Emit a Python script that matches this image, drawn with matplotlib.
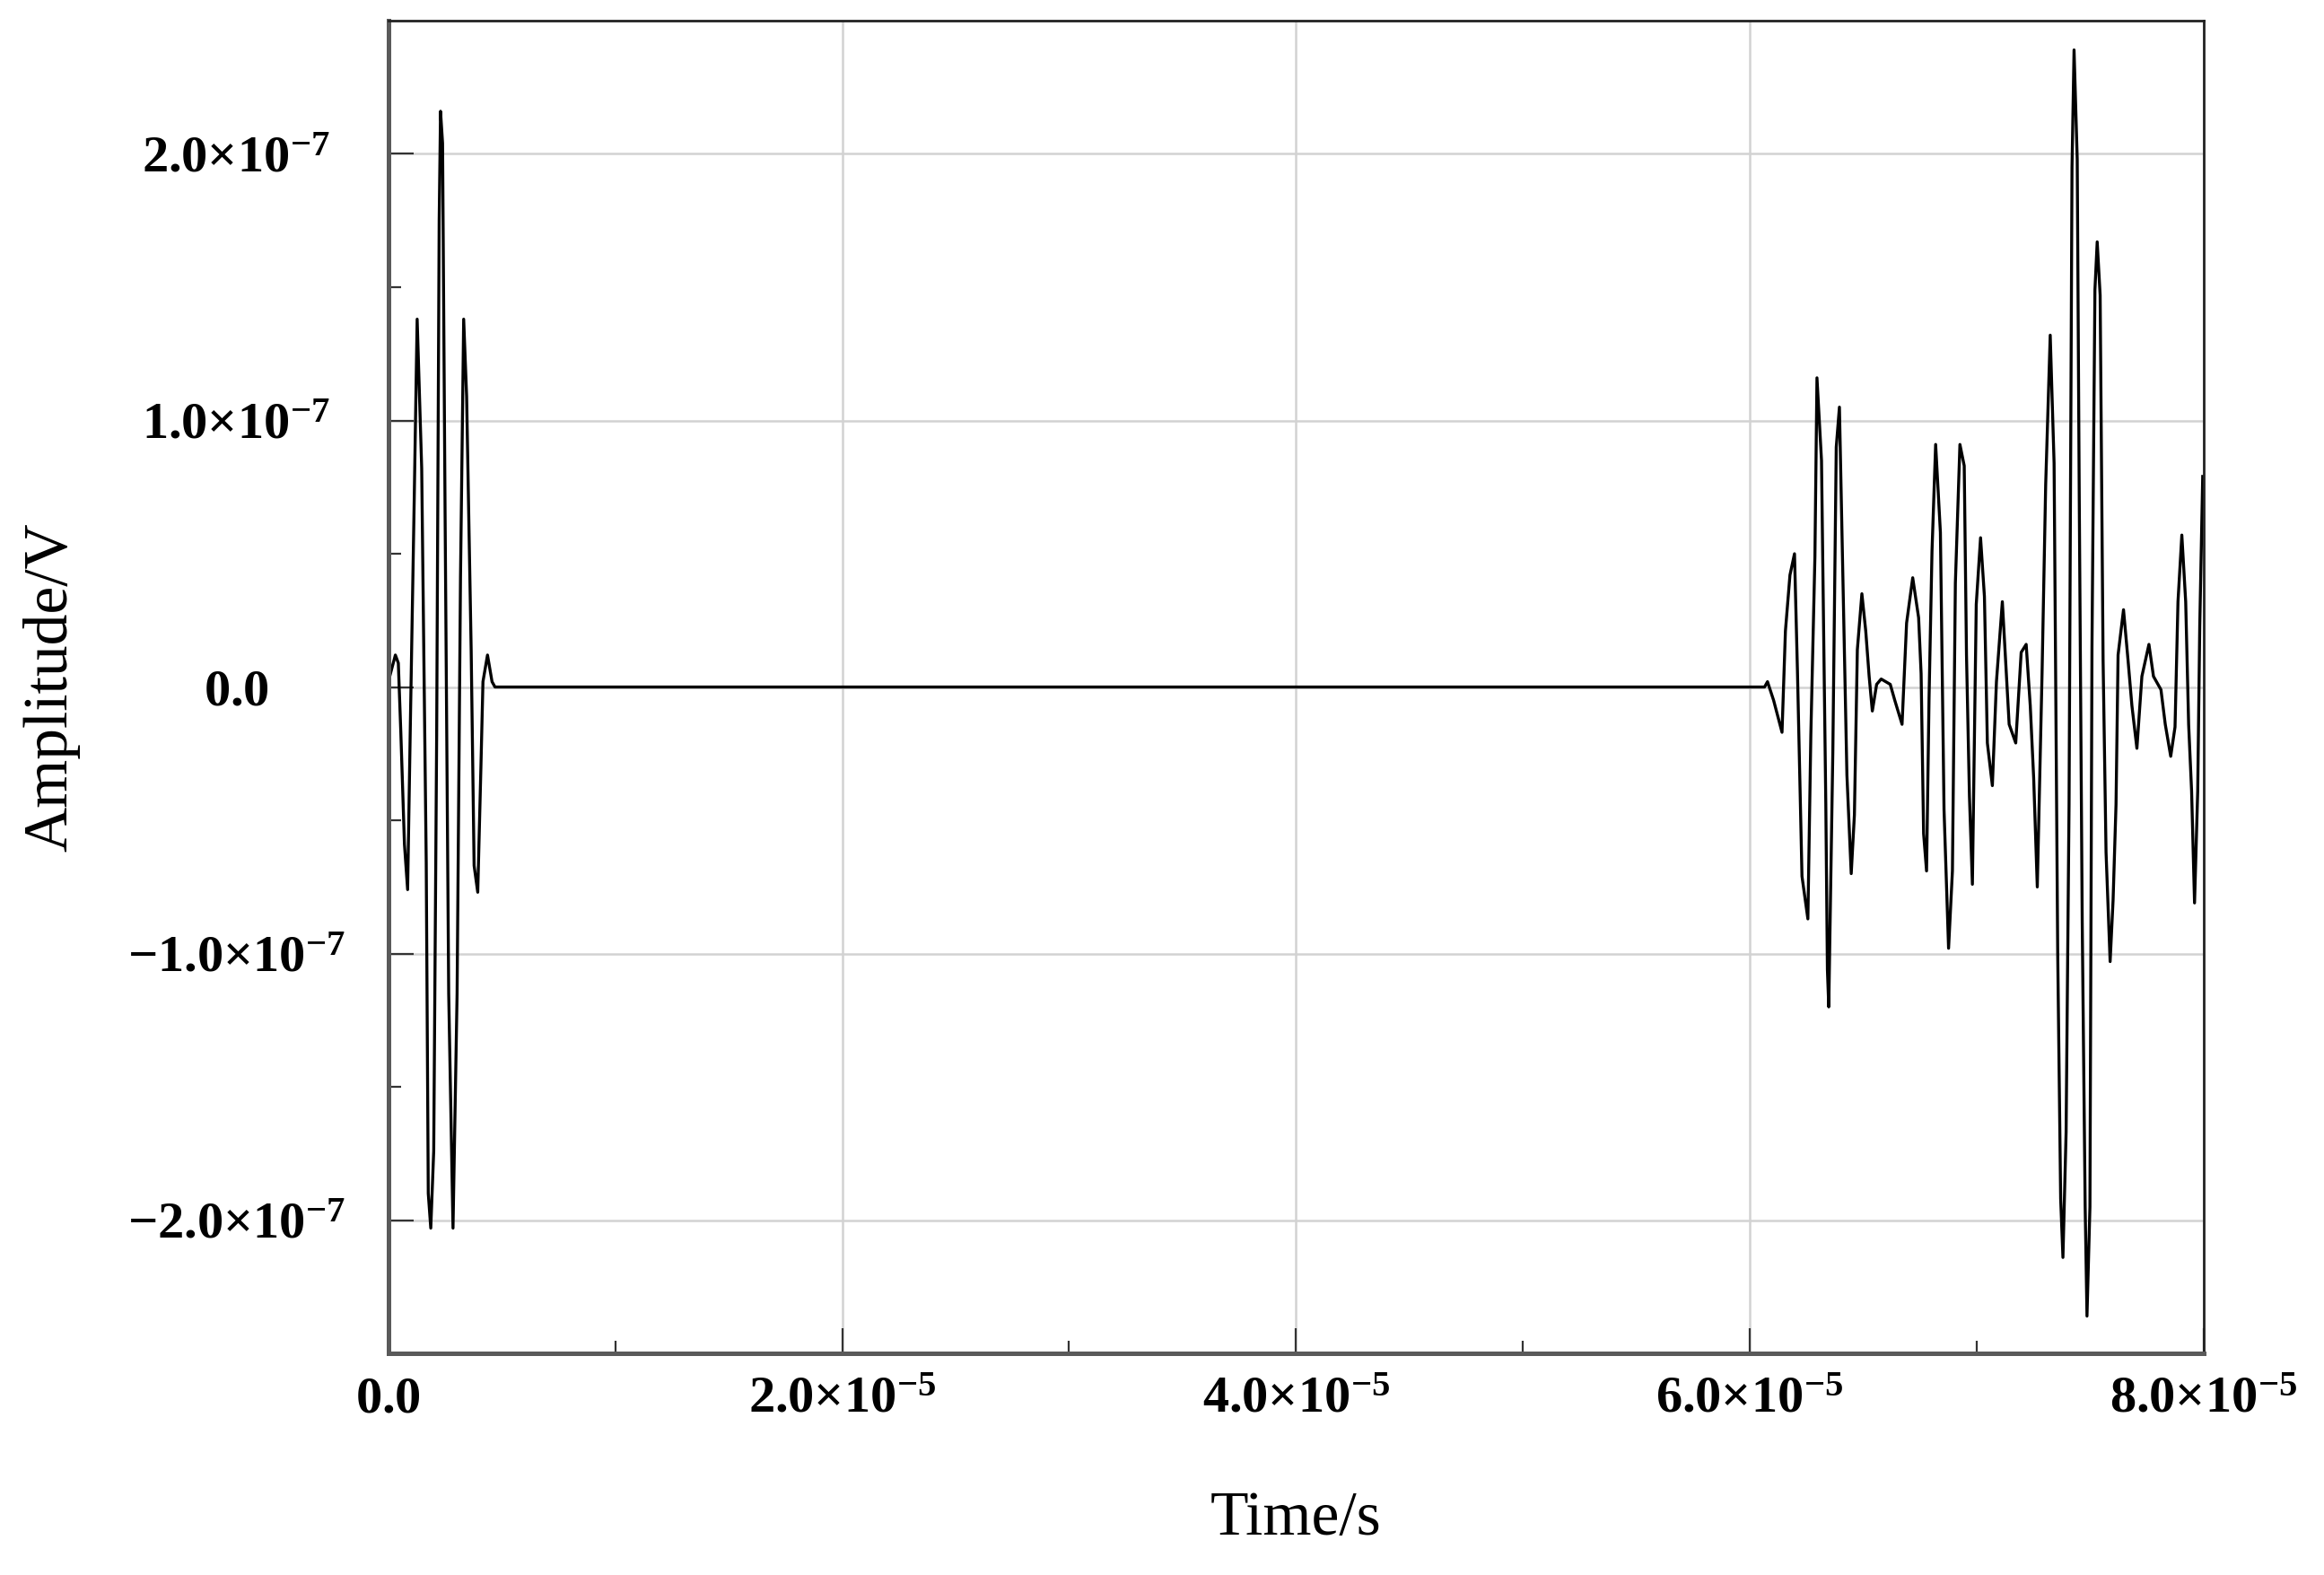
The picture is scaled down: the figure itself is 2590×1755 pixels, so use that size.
import numpy as np
import matplotlib
matplotlib.use('Agg')
import matplotlib.pyplot as plt

# 読み取った波形データ (時間: us, 振幅: 1e-7 V)
burst1_t_us = [0.00, 0.22, 0.31, 0.44, 0.55, 0.71, 0.85, 0.97, 1.14, 1.27,
               1.47, 1.67, 1.76, 1.87, 2.00, 2.13, 2.24, 2.30, 2.39, 2.50,
               2.66, 2.85, 3.03, 3.18, 3.32, 3.45, 3.65, 3.78, 3.94, 4.08,
               4.17, 4.37, 4.57, 4.70]
burst1_amp = [0.02, 0.09, 0.12, 0.09, -0.17, -0.59, -0.76, -0.14, 0.70, 1.38,
              0.82, -0.66, -1.90, -2.03, -1.74, -0.18, 1.75, 2.16, 2.04, 0.66,
              -1.15, -2.03, -1.15, 0.41, 1.38, 1.09, 0.14, -0.67, -0.77, -0.30,
              0.02, 0.12, 0.02, 0.00]

burst2_t_us = [60.65, 60.78, 61.05, 61.42, 61.57, 61.77, 61.97, 62.10, 62.30, 62.56,
               62.69, 62.87, 62.96, 63.16, 63.35, 63.42, 63.48, 63.66, 63.81, 63.95,
               64.14, 64.28, 64.47, 64.61, 64.74, 64.94, 65.11, 65.26, 65.40, 65.59,
               65.79, 66.19, 66.39, 66.71, 66.91, 67.18, 67.44, 67.55, 67.66, 67.79,
               67.90, 68.03, 68.19, 68.40, 68.56, 68.76, 68.93, 69.06, 69.26, 69.45,
               69.55, 69.68, 69.81,
               69.98, 70.17, 70.34, 70.47, 70.69, 70.87, 71.13, 71.43, 71.72, 71.96,
               72.18, 72.36, 72.51, 72.67, 72.88, 73.04, 73.24, 73.41, 73.57, 73.70,
               73.80, 73.94, 74.07, 74.20, 74.29, 74.43, 74.52, 74.65, 74.78, 74.86,
               74.99, 75.08, 75.21, 75.31, 75.44, 75.57, 75.70, 75.88, 76.01, 76.14,
               76.23, 76.47, 76.67, 76.84, 77.06, 77.28, 77.59, 77.79, 78.12, 78.31,
               78.55, 78.74, 78.87, 79.04, 79.21, 79.34, 79.47, 79.60, 79.74, 79.83,
               79.96]
burst2_amp = [0.00, 0.02, -0.05, -0.17, 0.21, 0.42, 0.50, 0.06, -0.71, -0.87,
              -0.18, 0.49, 1.16, 0.85, -0.44, -1.06, -1.20, -0.24, 0.90, 1.05,
              0.26, -0.33, -0.70, -0.48, 0.14, 0.35, 0.21, 0.04, -0.09, 0.01,
              0.03, 0.01, -0.05, -0.14, 0.24, 0.41, 0.26, 0.05, -0.55, -0.69,
              -0.04, 0.51, 0.91, 0.58, -0.46, -0.98, -0.69, 0.39, 0.91, 0.83,
              0.12, -0.41, -0.74,
              0.31, 0.56, 0.34, -0.21, -0.37, 0.02, 0.32, -0.14, -0.21, 0.13,
              0.16, -0.07, -0.34, -0.75, 0.05, 0.76, 1.32, 0.84, -1.00, -1.92,
              -2.14, -1.67, -0.44, 1.95, 2.39, 1.98, 0.70, -0.88, -1.95, -2.36,
              -1.95, 0.15, 1.49, 1.67, 1.47, 0.10, -0.62, -1.03, -0.80, -0.44,
              0.12, 0.29, 0.10, -0.07, -0.23, 0.04, 0.16, 0.04, -0.01, -0.14,
              -0.26, -0.15, 0.32, 0.57, 0.32, -0.14, -0.39, -0.81, -0.39, 0.23,
              0.79]

x_ticks = [0, 2e-5, 4e-5, 6e-5, 8e-5]
x_tick_labels = [r'$\mathbf{0.0}$', r'$\mathbf{2.0{\times}10^{-5}}$', r'$\mathbf{4.0{\times}10^{-5}}$',
                 r'$\mathbf{6.0{\times}10^{-5}}$', r'$\mathbf{8.0{\times}10^{-5}}$']
y_ticks = [-2e-7, -1e-7, 0, 1e-7, 2e-7]
y_tick_labels = [r'$\mathbf{{-}2.0{\times}10^{-7}}$', r'$\mathbf{{-}1.0{\times}10^{-7}}$', r'$\mathbf{0.0}$',
                 r'$\mathbf{1.0{\times}10^{-7}}$', r'$\mathbf{2.0{\times}10^{-7}}$']

plt.rcParams['font.family'] = ['Liberation Serif', 'DejaVu Serif']
plt.rcParams['mathtext.fontset'] = 'custom'
plt.rcParams['mathtext.rm'] = 'Liberation Serif'
plt.rcParams['mathtext.bf'] = 'Liberation Serif:bold'
plt.rcParams['mathtext.it'] = 'Liberation Serif:italic'

t = np.concatenate([burst1_t_us, burst2_t_us]) * 1e-6
amp = np.concatenate([burst1_amp, burst2_amp]) * 1e-7

fig = plt.figure(figsize=(12.95, 8.775), dpi=200)
ax = fig.add_axes([0.1671, 0.1407, 0.7811, 0.8462])

ax.plot(t, amp, color='black', lw=1.2)

ax.set_xlim(0, 8e-5)
ax.set_ylim(-2.5e-7, 2.5e-7)
ax.set_xticks(x_ticks, x_tick_labels)
ax.set_xticks([1e-5, 3e-5, 5e-5, 7e-5], minor=True)
ax.set_yticks(y_ticks, y_tick_labels)
ax.set_yticks([-1.5e-7, -0.5e-7, 0.5e-7, 1.5e-7], minor=True)

# グリッド
ax.grid(True, which='major', color='#d2d2d2', lw=0.9)
ax.set_axisbelow(True)

# 目盛り
ax.tick_params(which='both', direction='in', color='#333333', width=0.8)
ax.tick_params(which='major', length=10)
ax.tick_params(which='minor', length=5)
ax.tick_params(axis='x', labelsize=21, pad=9)
ax.tick_params(axis='y', labelsize=21, pad=61)
for lab in ax.get_yticklabels():
    lab.set_ha('center')

for side in ['left', 'bottom']:
    ax.spines[side].set_linewidth(1.8)
    ax.spines[side].set_color('#5a5a5a')
for side in ['top', 'right']:
    ax.spines[side].set_linewidth(1.0)
    ax.spines[side].set_color('#222222')

ax.set_xlabel('Time/s', fontsize=25, va='center')
ax.xaxis.set_label_coords(0.5, -0.1246)
ax.set_ylabel('Amplitude/V', fontsize=25, va='center')
ax.yaxis.set_label_coords(-0.1854, 0.5)

fig.savefig('out.png', dpi=200)
